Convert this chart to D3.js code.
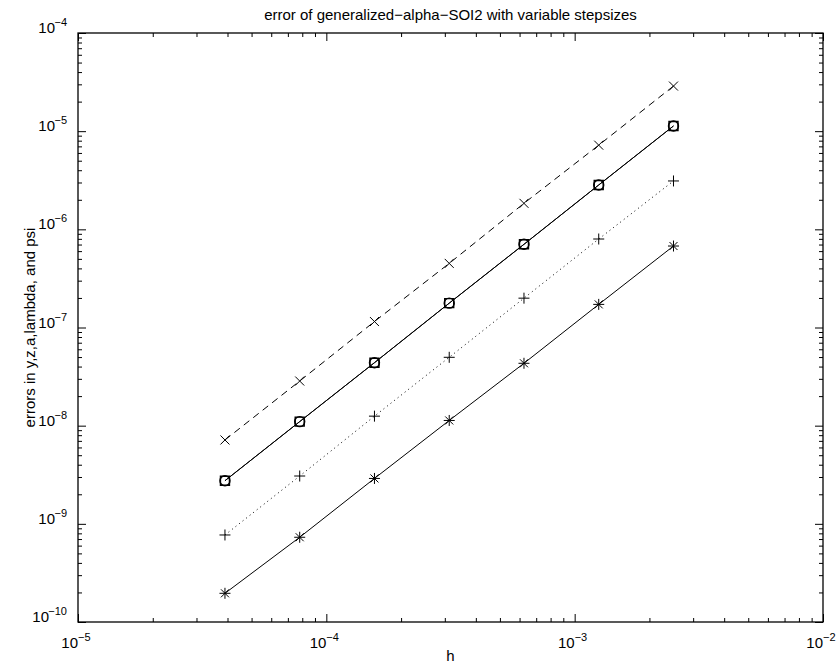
<!DOCTYPE html>
<html>
<head>
<meta charset="utf-8">
<script src="https://cdn.jsdelivr.net/npm/d3@7"></script>
<style>
  html, body { margin: 0; padding: 0; background: #fff; overflow: hidden; width: 100%; height: 100%; }
  svg { display: block; width: 100vw; height: 100vh; font-family: "Liberation Sans", Arial, Helvetica, sans-serif; }
</style>
</head>
<body>
<svg id="chart"></svg>
<script>
// step sizes h
const stepSizes = [3.90625e-5, 7.8125e-5, 1.5625e-4, 3.125e-4, 6.25e-4, 1.25e-3, 2.5e-3];

// errors
const errY = [7.15e-9, 2.85e-8, 1.15e-7, 4.5e-7, 1.84e-6, 7.2e-6, 2.88e-5];
const errZ = [2.75e-9, 1.10e-8, 4.38e-8, 1.77e-7, 7.04e-7, 2.83e-6, 1.13e-5];
const errA = [2.75e-9, 1.10e-8, 4.38e-8, 1.77e-7, 7.04e-7, 2.83e-6, 1.13e-5];
const errLambda = [7.7e-10, 3.07e-9, 1.25e-8, 4.97e-8, 1.99e-7, 7.97e-7, 3.11e-6];
const errPsi = [1.96e-10, 7.3e-10, 2.9e-9, 1.13e-8, 4.32e-8, 1.72e-7, 6.76e-7];

const xDecades = [-5, -4, -3, -2];
const yDecades = [-10, -9, -8, -7, -6, -5, -4];

const titleText = 'error of generalized\u2212alpha\u2212SOI2 with variable stepsizes';
const xLabelText = 'h';
const yLabelText = 'errors in y,z,a,lambda, and psi';

const series = [
  { values: errY, marker: 'x', dash: '7,5' },
  { values: errZ, marker: 'o', dash: null },
  { values: errA, marker: 's', dash: null },
  { values: errLambda, marker: '+', dash: '1,3.5' },
  { values: errPsi, marker: '*', dash: null }
];

const width = 839, height = 668;
const margin = { top: 33, right: 16, bottom: 46, left: 78 };
const innerWidth = width - margin.left - margin.right;
const innerHeight = height - margin.top - margin.bottom;

const svg = d3.select('#chart').attr('viewBox', `0 0 ${width} ${height}`);
const g = svg.append('g').attr('transform', `translate(${margin.left},${margin.top})`);

const x = d3.scaleLog().domain([1e-5, 1e-2]).range([0, innerWidth]);
const y = d3.scaleLog().domain([1e-10, 1e-4]).range([innerHeight, 0]);

const majorX = xDecades.map(e => Math.pow(10, e));
const majorY = yDecades.map(e => Math.pow(10, e));
const minorX = x.ticks().filter(v => !majorX.some(m => Math.abs(m - v) / m < 1e-6));
const minorY = y.ticks().filter(v => !majorY.some(m => Math.abs(m - v) / m < 1e-6));

function styleAxis(sel) {
  sel.select('.domain').remove();
  sel.selectAll('line').attr('stroke', '#000').attr('stroke-width', 1);
}

// ticks on all four sides, pointing inward
[[minorX, 4], [majorX, 8]].forEach(([vals, len]) => {
  g.append('g').attr('transform', `translate(0,${innerHeight})`)
    .call(d3.axisBottom(x).tickValues(vals).tickSize(-len).tickFormat(''))
    .call(styleAxis);
  g.append('g')
    .call(d3.axisTop(x).tickValues(vals).tickSize(-len).tickFormat(''))
    .call(styleAxis);
});
[[minorY, 4], [majorY, 8]].forEach(([vals, len]) => {
  g.append('g')
    .call(d3.axisLeft(y).tickValues(vals).tickSize(-len).tickFormat(''))
    .call(styleAxis);
  g.append('g').attr('transform', `translate(${innerWidth},0)`)
    .call(d3.axisRight(y).tickValues(vals).tickSize(-len).tickFormat(''))
    .call(styleAxis);
});

// box
g.append('rect')
  .attr('width', innerWidth)
  .attr('height', innerHeight)
  .attr('fill', 'none')
  .attr('stroke', '#000')
  .attr('stroke-width', 1.3);

// tick labels as 10^n: base and exponent as separate texts
xDecades.forEach(e => {
  const cx = x(Math.pow(10, e));
  g.append('text')
    .attr('x', cx)
    .attr('y', innerHeight + 26)
    .attr('text-anchor', 'end')
    .attr('font-size', '15px')
    .attr('fill', '#000')
    .text('10');
  g.append('text')
    .attr('x', cx)
    .attr('y', innerHeight + 19)
    .attr('font-size', '11px')
    .attr('fill', '#000')
    .text('\u2212' + Math.abs(e));
});

yDecades.forEach(e => {
  const cy = y(Math.pow(10, e));
  g.append('text')
    .attr('x', -11)
    .attr('y', cy - 7)
    .attr('text-anchor', 'end')
    .attr('font-size', '11px')
    .attr('fill', '#000')
    .text('\u2212' + Math.abs(e));
  g.append('text')
    .attr('x', -11 - (Math.abs(e) >= 10 ? 18 : 12))
    .attr('y', cy)
    .attr('text-anchor', 'end')
    .attr('font-size', '15px')
    .attr('fill', '#000')
    .text('10');
});

// lines and markers
const line = d3.line()
  .x((d, i) => x(stepSizes[i]))
  .y(d => y(d));

function markerPath(type) {
  const p = d3.path();
  if (type === 'x') {
    const r = 4.5;
    p.moveTo(-r, -r); p.lineTo(r, r);
    p.moveTo(-r, r); p.lineTo(r, -r);
  } else if (type === '+') {
    const r = 5.5;
    p.moveTo(-r, 0); p.lineTo(r, 0);
    p.moveTo(0, -r); p.lineTo(0, r);
  } else if (type === '*') {
    const r = 5.5, d = 4;
    p.moveTo(-r, 0); p.lineTo(r, 0);
    p.moveTo(0, -r); p.lineTo(0, r);
    p.moveTo(-d, -d); p.lineTo(d, d);
    p.moveTo(-d, d); p.lineTo(d, -d);
  } else if (type === 'o') {
    p.arc(0, 0, 5, 0, 2 * Math.PI);
  } else if (type === 's') {
    p.rect(-4.5, -4.5, 9, 9);
  }
  return p.toString();
}

series.forEach(s => {
  g.append('path')
    .datum(s.values)
    .attr('d', line)
    .attr('fill', 'none')
    .attr('stroke', '#000')
    .attr('stroke-width', 1)
    .attr('stroke-dasharray', s.dash);

  g.selectAll(null)
    .data(s.values)
    .enter()
    .append('path')
    .attr('transform', (d, i) => `translate(${x(stepSizes[i])},${y(d)})`)
    .attr('d', markerPath(s.marker))
    .attr('fill', 'none')
    .attr('stroke', '#000')
    .attr('stroke-width', s.marker === 'o' || s.marker === 's' ? 1.4 : 1);
});

// title and axis labels
svg.append('text')
  .attr('x', margin.left + innerWidth / 2)
  .attr('y', 20)
  .attr('text-anchor', 'middle')
  .attr('font-size', '15px')
  .attr('fill', '#000')
  .text(titleText);

svg.append('text')
  .attr('x', margin.left + innerWidth / 2)
  .attr('y', 661)
  .attr('text-anchor', 'middle')
  .attr('font-size', '15px')
  .attr('fill', '#000')
  .text(xLabelText);

svg.append('text')
  .attr('transform', `translate(35,${margin.top + innerHeight / 2}) rotate(-90)`)
  .attr('text-anchor', 'middle')
  .attr('font-size', '15px')
  .attr('fill', '#000')
  .text(yLabelText);
</script>
</body>
</html>
